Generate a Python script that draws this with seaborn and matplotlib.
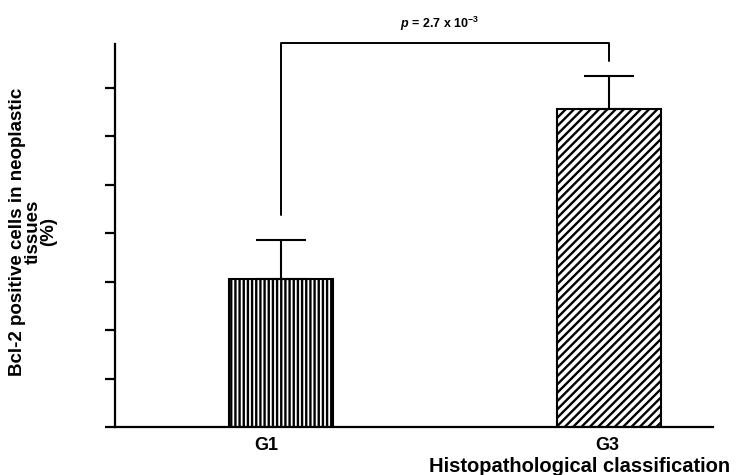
import matplotlib
matplotlib.use("Agg")
import matplotlib.pyplot as plt
import matplotlib.transforms as mtransforms
import seaborn as sns
import pandas as pd

# ---- data ----
groups = ["G1", "G3"]
means = [3.05, 6.55]
errors = [0.80, 0.70]
hatches = ["||||", "////"]
bracket_y = [4.37, 7.92, 7.92, 7.55]
p_text = r"$\mathbfit{p}$ = 2.7 x 10$^{\mathbf{-3}}$"
ylabel = "Bcl-2 positive cells in neoplastic\ntissues\n(%)"
xlabel = "Histopathological classification"
yticks = [0, 1, 2, 3, 4, 5, 6, 7]

sns.set_style("ticks")
plt.rcParams["font.family"] = ["Liberation Sans", "DejaVu Sans"]
plt.rcParams["text.color"] = "black"
plt.rcParams["axes.labelcolor"] = "black"
plt.rcParams["xtick.color"] = "black"
plt.rcParams["ytick.color"] = "black"
plt.rcParams["axes.edgecolor"] = "black"
plt.rcParams["mathtext.fontset"] = "custom"
plt.rcParams["mathtext.rm"] = "Liberation Sans:bold"
plt.rcParams["mathtext.bf"] = "Liberation Sans:bold"
plt.rcParams["mathtext.it"] = "Liberation Sans:italic:bold"
try:
    plt.rcParams["mathtext.bfit"] = "Liberation Sans:italic:bold"
except KeyError:
    p_text = r"$\mathit{p}$ = 2.7 x 10$^{\mathbf{-3}}$"
plt.rcParams["hatch.linewidth"] = 1.7
plt.rcParams["hatch.color"] = "black"

df = pd.DataFrame({"group": groups, "value": means})

fig = plt.figure(figsize=(7.4, 4.75), dpi=100)
ax = fig.add_axes([115 / 740, 48 / 475, (713 - 115) / 740, (427 - 44) / 475])

sns.barplot(data=df, x="group", y="value", ax=ax, width=0.318, color="white",
            edgecolor="black", linewidth=1.5, errorbar=None, saturation=1)
for patch, h in zip(ax.patches, hatches):
    patch.set_hatch(h)
    patch.set_facecolor("white")
    patch.set_edgecolor("black")

xpos = list(range(len(groups)))
ax.errorbar(xpos, means, yerr=[[0] * len(errors), errors], fmt="none",
            ecolor="black", elinewidth=1.5, capsize=18, capthick=1.5, zorder=3)

# significance bracket
ax.plot([xpos[0], xpos[0], xpos[1], xpos[1]], bracket_y, color="black",
        lw=1.4, clip_on=False)
fig.text(440 / 740, 1 - 24 / 475, p_text, ha="center", va="center",
         fontsize=9, fontweight="bold")

ax.set_xlim(-0.508, 1.318)
ax.set_ylim(0, 7.9)
ax.set_yticks(yticks)
ax.set_yticklabels([""] * len(yticks))
ax.tick_params(axis="y", length=7.5, width=1.6, direction="out")
ax.tick_params(axis="x", length=0, pad=7, labelsize=13)
for lbl in ax.get_xticklabels():
    lbl.set_fontweight("bold")
offsets = [-15, -2]
for lbl, off in zip(ax.get_xticklabels(), offsets):
    lbl.set_transform(lbl.get_transform() +
                      mtransforms.ScaledTranslation(off / 100, 0, fig.dpi_scale_trans))

for s in ["top", "right"]:
    ax.spines[s].set_visible(False)
for s in ["left", "bottom"]:
    ax.spines[s].set_linewidth(1.6)

ax.set_xlabel(xlabel, fontsize=14.5, fontweight="bold", va="center", ha="center")
ax.xaxis.set_label_coords((580 - 115) / 598, (427 - 467) / 383)
ax.set_ylabel(ylabel, fontsize=13.5, fontweight="bold", va="center", ha="center",
              linespacing=0.92)
ax.yaxis.set_label_coords((33 - 115) / 598, (427 - 232) / 383)

fig.savefig("out.png", dpi=100)
